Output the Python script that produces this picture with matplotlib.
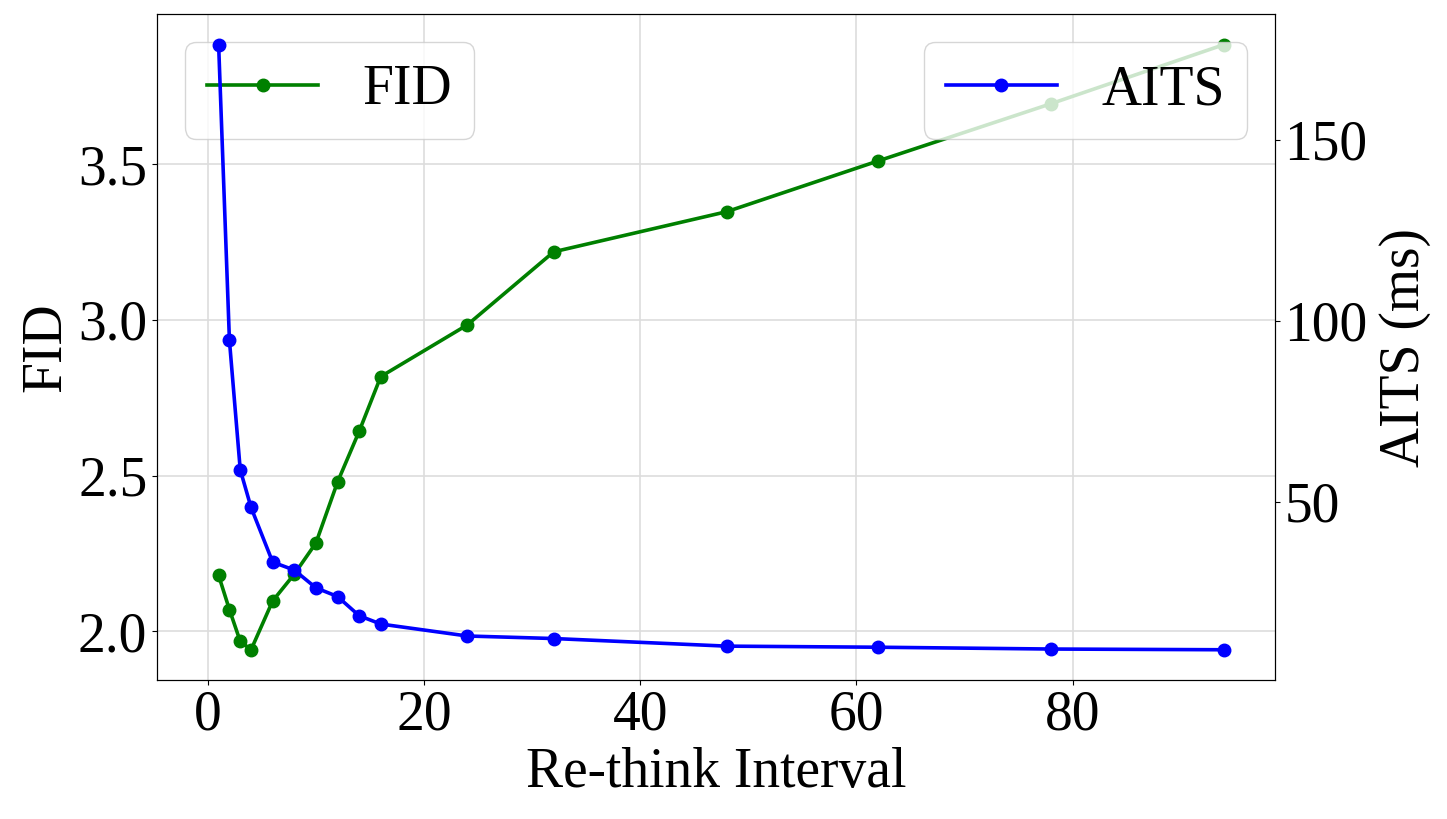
import numpy as np
import matplotlib.pyplot as plt

# re-think interval vs FID / AITS
interval = [1, 2, 3, 4, 6, 8, 10, 12, 14, 16, 24, 32, 48, 62, 78, 94]
fid = [2.179, 2.069, 1.967, 1.940, 2.097, 2.183, 2.283, 2.479, 2.642, 2.818,
       2.984, 3.219, 3.348, 3.511, 3.695, 3.885]
aits = [176.3, 94.6, 58.9, 48.5, 33.4, 31.2, 26.3, 23.9, 18.6, 16.3,
        13.0, 12.3, 10.2, 9.9, 9.4, 9.2]

plt.rcParams['font.family'] = ['Liberation Serif', 'DejaVu Serif']
plt.rcParams['font.size'] = 40

fig, ax1 = plt.subplots(figsize=(14.47, 8.19), dpi=100)
fig.subplots_adjust(left=0.1085, right=0.881, top=0.9825, bottom=0.1697)

ax1.plot(interval, fid, color="green", marker="o", linewidth=2.6, markersize=9, label="FID")
ax1.set_xlabel("Re-think Interval")
ax1.set_ylabel("FID")
ax1.grid(True, color="#dddddd", linewidth=1.2)
ax1.set_axisbelow(True)
ax1.set_xlim(-4.7, 98.7)
ax1.set_yticks([2.0, 2.5, 3.0, 3.5])
ax1.legend(loc="upper left")

ax2 = ax1.twinx()
ax2.plot(interval, aits, color="blue", marker="o", linewidth=2.6, markersize=9, label="AITS")
ax2.set_ylabel("AITS (ms)", labelpad=8)
ax2.set_yticks([50, 100, 150])
ax2.legend(loc="upper right")

plt.savefig("out.png")
